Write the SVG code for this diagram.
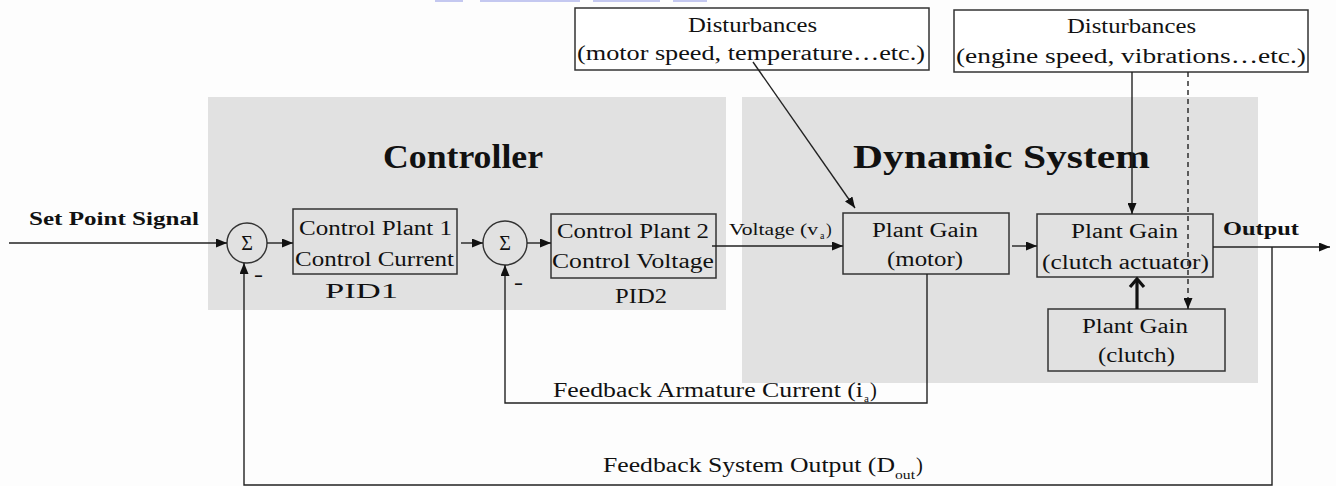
<svg xmlns="http://www.w3.org/2000/svg" width="1336" height="486" viewBox="0 0 1336 486" font-family="'Liberation Serif', 'Times New Roman', serif">
<style>
text{font-family:"Liberation Serif","Times New Roman",serif;fill:#111}
.b{font-weight:bold}
.t{font-size:20.5px}
.box{fill:none;stroke:#333;stroke-width:1.5}
.wbox{fill:#fff;stroke:#333;stroke-width:1.5}
.ln{fill:none;stroke:#222;stroke-width:1.4}
.region{fill:#e1e1e1}
</style>
<defs>
<marker id="ah" markerUnits="userSpaceOnUse" markerWidth="11" markerHeight="9" refX="11" refY="4.5" orient="auto">
<path d="M0,0 L11,4.5 L0,9 z" fill="#111"/>
</marker>
</defs>
<rect width="1336" height="486" fill="#fdfdfd"/>
<g id="topmark" fill="#c4c8f0">
<rect x="435" y="0" width="28" height="2"/>
<rect x="480" y="0" width="100" height="2"/>
<rect x="593" y="0" width="67" height="2"/>
<rect x="673" y="0" width="34" height="2"/>
</g>
<g id="controller-region">
<rect class="region" x="208" y="97" width="518" height="213"/>
<text class="b" x="383" y="168" font-size="33" textLength="160" lengthAdjust="spacingAndGlyphs">Controller</text>
</g>
<g id="dynamic-region">
<rect class="region" x="742" y="97" width="516" height="286"/>
<text class="b" x="853" y="168" font-size="33" textLength="297" lengthAdjust="spacingAndGlyphs">Dynamic System</text>
</g>
<g id="setpoint">
<text class="b" x="29" y="225" font-size="19" textLength="170" lengthAdjust="spacingAndGlyphs">Set Point Signal</text>
</g>
<g id="sum1">
<circle cx="247" cy="243" r="20" fill="none" stroke="#333" stroke-width="1.4"/>
<text x="247" y="250" font-size="20" text-anchor="middle">Σ</text>
<text class="b" x="254" y="281" font-size="18" textLength="9" lengthAdjust="spacingAndGlyphs">-</text>
</g>
<g id="pid1">
<rect class="box" x="293" y="209" width="164" height="65"/>
<text class="t" x="299" y="235" textLength="153" lengthAdjust="spacingAndGlyphs">Control Plant 1</text>
<text class="t" x="295" y="266" textLength="159" lengthAdjust="spacingAndGlyphs">Control Current</text>
<text class="t" x="325" y="298" textLength="73" lengthAdjust="spacingAndGlyphs">PID1</text>
</g>
<g id="sum2">
<circle cx="505" cy="243" r="22" fill="none" stroke="#333" stroke-width="1.4"/>
<text x="505" y="250" font-size="20" text-anchor="middle">Σ</text>
<text class="b" x="514" y="289" font-size="18" textLength="9" lengthAdjust="spacingAndGlyphs">-</text>
</g>
<g id="pid2">
<rect class="box" x="551" y="214" width="165" height="64"/>
<text class="t" x="557" y="238" textLength="152" lengthAdjust="spacingAndGlyphs">Control Plant 2</text>
<text class="t" x="552" y="268" textLength="162" lengthAdjust="spacingAndGlyphs">Control Voltage</text>
<text class="t" x="615" y="303" textLength="52" lengthAdjust="spacingAndGlyphs">PID2</text>
</g>
<g id="plant-motor">
<rect class="box" x="843" y="213" width="166" height="61"/>
<text class="t" x="872" y="237" textLength="106" lengthAdjust="spacingAndGlyphs">Plant Gain</text>
<text class="t" x="887" y="266" textLength="76" lengthAdjust="spacingAndGlyphs">(motor)</text>
</g>
<g id="plant-actuator">
<rect class="box" x="1037" y="214" width="176" height="63"/>
<text class="t" x="1071" y="238" textLength="107" lengthAdjust="spacingAndGlyphs">Plant Gain</text>
<text class="t" x="1042" y="269" textLength="167" lengthAdjust="spacingAndGlyphs">(clutch actuator)</text>
</g>
<g id="plant-clutch">
<rect class="box" x="1048" y="309" width="177" height="62"/>
<text class="t" x="1082" y="333" textLength="106" lengthAdjust="spacingAndGlyphs">Plant Gain</text>
<text class="t" x="1098" y="362" textLength="77" lengthAdjust="spacingAndGlyphs">(clutch)</text>
</g>
<g id="dist1">
<rect class="wbox" x="575" y="8" width="354" height="62"/>
<text class="t" x="688" y="32" textLength="129" lengthAdjust="spacingAndGlyphs">Disturbances</text>
<text class="t" x="577" y="60" textLength="348" lengthAdjust="spacingAndGlyphs">(motor speed, temperature…etc.)</text>
</g>
<g id="dist2">
<rect class="wbox" x="954" y="10" width="354" height="62"/>
<text class="t" x="1067" y="33" textLength="129" lengthAdjust="spacingAndGlyphs">Disturbances</text>
<text class="t" x="956" y="63" textLength="350" lengthAdjust="spacingAndGlyphs">(engine speed, vibrations…etc.)</text>
</g>
<g id="output-label">
<text class="b" x="1223" y="235" font-size="19" textLength="76" lengthAdjust="spacingAndGlyphs">Output</text>
</g>
<g id="connectors">
<line class="ln" x1="9" y1="243" x2="227" y2="243" marker-end="url(#ah)"/>
<line class="ln" x1="267" y1="243" x2="293" y2="243" marker-end="url(#ah)"/>
<line class="ln" x1="461" y1="243" x2="483" y2="243" marker-end="url(#ah)"/>
<line class="ln" x1="527" y1="243" x2="551" y2="243" marker-end="url(#ah)"/>
<line class="ln" x1="712" y1="246" x2="843" y2="246" marker-end="url(#ah)"/>
<line class="ln" x1="1012" y1="246" x2="1037" y2="246" marker-end="url(#ah)"/>
<line class="ln" x1="1213" y1="247" x2="1330" y2="247" marker-end="url(#ah)"/>
<line class="ln" x1="753" y1="62" x2="855" y2="208" marker-end="url(#ah)"/>
<line class="ln" x1="1132" y1="72" x2="1132" y2="214" marker-end="url(#ah)"/>
<line class="ln" x1="1188" y1="72" x2="1188" y2="309" stroke-dasharray="5,4" marker-end="url(#ah)"/>
<line x1="1137" y1="309" x2="1137" y2="280" stroke="#111" stroke-width="3.2"/>
<polyline points="1130,287 1137,279 1144,287" fill="none" stroke="#111" stroke-width="3.2"/>
<polyline class="ln" points="927,274 927,403 505,403 505,265" marker-end="url(#ah)"/>
<polyline class="ln" points="1272,247 1272,485 244,485 244,263" stroke-width="1.8" marker-end="url(#ah)"/>
</g>
<g id="feedback-labels">
<text x="729" y="235" style="font-size:17px" textLength="89" lengthAdjust="spacingAndGlyphs">Voltage (v</text>
<text x="820" y="239" style="font-size:10px">a</text>
<text x="826" y="235" style="font-size:17px">)</text>
<text class="t" x="553" y="397" textLength="310" lengthAdjust="spacingAndGlyphs">Feedback Armature Current (i</text>
<text x="864" y="402" style="font-size:11px">a</text>
<text class="t" x="870" y="397">)</text>
<text class="t" x="603" y="472" textLength="292" lengthAdjust="spacingAndGlyphs">Feedback System Output (D</text>
<text x="895" y="479" style="font-size:13px" textLength="20" lengthAdjust="spacingAndGlyphs">out</text>
<text class="t" x="916" y="472">)</text>
</g>
</svg>
